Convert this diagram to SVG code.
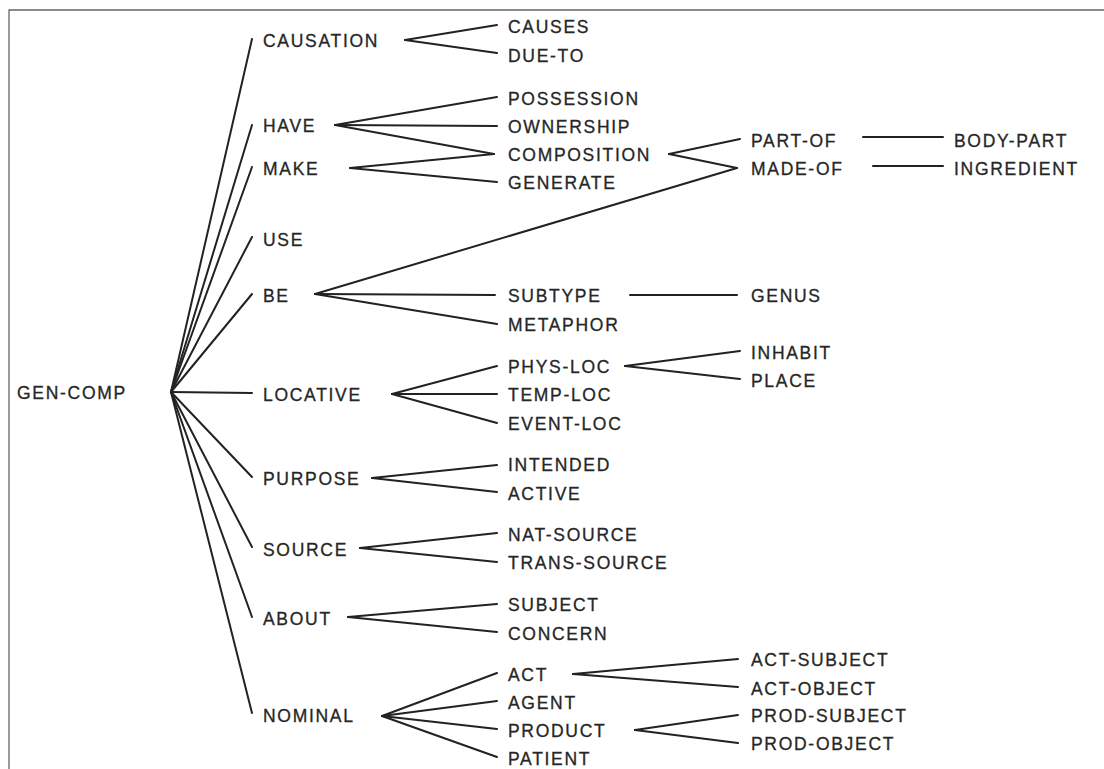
<svg xmlns="http://www.w3.org/2000/svg" width="1104" height="769" viewBox="0 0 1104 769">
<style>
.t{font-family:"Liberation Sans",Arial,sans-serif;font-size:17.5px;letter-spacing:1.7px;fill:#262626;stroke:#262626;stroke-width:0.3}
.c line{stroke:#222;stroke-width:2;stroke-linecap:round}
.f{stroke:#666;stroke-width:1.3;fill:none}
</style>
<rect width="1104" height="769" fill="#fff"/>
<path class="f" d="M9,769 V10 H1104"/>
<g id="connectors" class="c">
<line x1="171" y1="392" x2="252" y2="39"/>
<line x1="171" y1="392" x2="252" y2="125"/>
<line x1="171" y1="392" x2="252" y2="167"/>
<line x1="171" y1="392" x2="252" y2="237"/>
<line x1="171" y1="392" x2="252" y2="294"/>
<line x1="171" y1="392" x2="252" y2="393"/>
<line x1="171" y1="392" x2="252" y2="477"/>
<line x1="171" y1="392" x2="252" y2="547"/>
<line x1="171" y1="392" x2="252" y2="617"/>
<line x1="171" y1="392" x2="252" y2="713"/>
<line x1="405" y1="40" x2="497" y2="25"/>
<line x1="405" y1="40" x2="497" y2="53"/>
<line x1="335" y1="125" x2="497" y2="97"/>
<line x1="335" y1="125" x2="497" y2="126"/>
<line x1="335" y1="125" x2="494" y2="154"/>
<line x1="350" y1="168" x2="494" y2="154"/>
<line x1="350" y1="168" x2="497" y2="182"/>
<line x1="669" y1="154" x2="740" y2="139"/>
<line x1="669" y1="154" x2="737" y2="168"/>
<line x1="863" y1="137" x2="943" y2="137"/>
<line x1="873" y1="166" x2="943" y2="166"/>
<line x1="315" y1="294" x2="737" y2="168"/>
<line x1="315" y1="294" x2="495" y2="295"/>
<line x1="315" y1="294" x2="497" y2="324"/>
<line x1="630" y1="295" x2="737" y2="295"/>
<line x1="392" y1="394" x2="497" y2="366"/>
<line x1="392" y1="394" x2="497" y2="394"/>
<line x1="392" y1="394" x2="497" y2="423"/>
<line x1="625" y1="366" x2="740" y2="351"/>
<line x1="625" y1="366" x2="740" y2="379"/>
<line x1="372" y1="478" x2="497" y2="465"/>
<line x1="372" y1="478" x2="497" y2="492"/>
<line x1="360" y1="548" x2="497" y2="533"/>
<line x1="360" y1="548" x2="497" y2="562"/>
<line x1="348" y1="617" x2="497" y2="604"/>
<line x1="348" y1="617" x2="497" y2="632"/>
<line x1="382" y1="716" x2="497" y2="673"/>
<line x1="382" y1="716" x2="497" y2="701"/>
<line x1="382" y1="716" x2="497" y2="729"/>
<line x1="382" y1="716" x2="497" y2="757"/>
<line x1="573" y1="674" x2="738" y2="659"/>
<line x1="573" y1="674" x2="738" y2="687"/>
<line x1="635" y1="730" x2="738" y2="715"/>
<line x1="635" y1="730" x2="738" y2="743"/>
</g>
<g id="gen-comp"><text class="t" x="17" y="399">GEN-COMP</text></g>
<g id="causation"><text class="t" x="263" y="47">CAUSATION</text></g>
<g id="have"><text class="t" x="263" y="132">HAVE</text></g>
<g id="make"><text class="t" x="263" y="175">MAKE</text></g>
<g id="use"><text class="t" x="263" y="246">USE</text></g>
<g id="be"><text class="t" x="263" y="302">BE</text></g>
<g id="locative"><text class="t" x="263" y="401">LOCATIVE</text></g>
<g id="purpose"><text class="t" x="263" y="485">PURPOSE</text></g>
<g id="source"><text class="t" x="263" y="556">SOURCE</text></g>
<g id="about"><text class="t" x="263" y="625">ABOUT</text></g>
<g id="nominal"><text class="t" x="263" y="722">NOMINAL</text></g>
<g id="causes"><text class="t" x="508" y="33">CAUSES</text></g>
<g id="due-to"><text class="t" x="508" y="62">DUE-TO</text></g>
<g id="possession"><text class="t" x="508" y="105">POSSESSION</text></g>
<g id="ownership"><text class="t" x="508" y="133">OWNERSHIP</text></g>
<g id="composition"><text class="t" x="508" y="161">COMPOSITION</text></g>
<g id="generate"><text class="t" x="508" y="189">GENERATE</text></g>
<g id="subtype"><text class="t" x="508" y="302">SUBTYPE</text></g>
<g id="metaphor"><text class="t" x="508" y="331">METAPHOR</text></g>
<g id="phys-loc"><text class="t" x="508" y="373">PHYS-LOC</text></g>
<g id="temp-loc"><text class="t" x="508" y="401">TEMP-LOC</text></g>
<g id="event-loc"><text class="t" x="508" y="430">EVENT-LOC</text></g>
<g id="intended"><text class="t" x="508" y="471">INTENDED</text></g>
<g id="active"><text class="t" x="508" y="500">ACTIVE</text></g>
<g id="nat-source"><text class="t" x="508" y="541">NAT-SOURCE</text></g>
<g id="trans-source"><text class="t" x="508" y="569">TRANS-SOURCE</text></g>
<g id="subject"><text class="t" x="508" y="611">SUBJECT</text></g>
<g id="concern"><text class="t" x="508" y="640">CONCERN</text></g>
<g id="act"><text class="t" x="508" y="681">ACT</text></g>
<g id="agent"><text class="t" x="508" y="709">AGENT</text></g>
<g id="product"><text class="t" x="508" y="737">PRODUCT</text></g>
<g id="patient"><text class="t" x="508" y="765">PATIENT</text></g>
<g id="part-of"><text class="t" x="751" y="147">PART-OF</text></g>
<g id="made-of"><text class="t" x="751" y="175">MADE-OF</text></g>
<g id="genus"><text class="t" x="751" y="302">GENUS</text></g>
<g id="inhabit"><text class="t" x="751" y="359">INHABIT</text></g>
<g id="place"><text class="t" x="751" y="387">PLACE</text></g>
<g id="act-subject"><text class="t" x="751" y="666">ACT-SUBJECT</text></g>
<g id="act-object"><text class="t" x="751" y="695">ACT-OBJECT</text></g>
<g id="prod-subject"><text class="t" x="751" y="722">PROD-SUBJECT</text></g>
<g id="prod-object"><text class="t" x="751" y="750">PROD-OBJECT</text></g>
<g id="body-part"><text class="t" x="954" y="147">BODY-PART</text></g>
<g id="ingredient"><text class="t" x="954" y="175">INGREDIENT</text></g>
</svg>
